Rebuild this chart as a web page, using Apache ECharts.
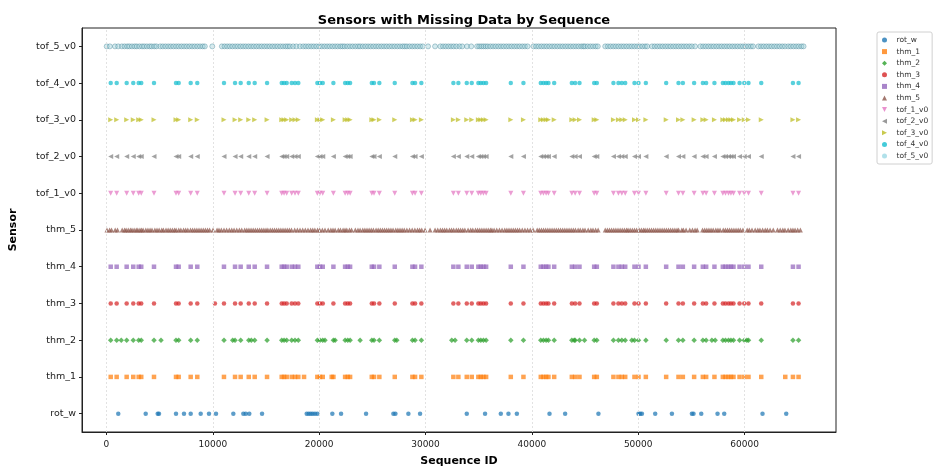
<!DOCTYPE html>
<html>
<head>
<meta charset="utf-8">
<script src="https://cdn.jsdelivr.net/npm/echarts@6/dist/echarts.min.js"></script>
<style>
html,body{margin:0;padding:0;background:#fff;}
#chart{width:933px;height:467px;}
</style>
</head>
<body>
<div id="chart"></div>
<script>
const sensors = ['rot_w','thm_1','thm_2','thm_3','thm_4','thm_5','tof_1_v0','tof_2_v0','tof_3_v0','tof_4_v0','tof_5_v0'];
const xTicks = [0,10000,20000,30000,40000,50000,60000];

const rotW = [1110,3690,4820,4940,6540,7290,7920,8860,9640,10300,11930,12870,13100,13430,14630,18830,19020,19210,19400,19610,19830,21240,22060,24410,26980,27170,28390,29490,33880,35600,37080,37800,38590,41660,43130,46260,50030,50190,50350,51600,53170,55050,55200,55930,57460,58090,61690,63920];

const thm1 = [400,960,1900,2520,3030,3270,4470,6540,6790,7920,8540,11050,12090,12620,13380,13940,15100,16480,16700,16950,17420,17730,18040,18580,19830,20080,20340,21180,21340,22440,22690,22910,24950,25160,25660,27110,28770,29020,29610,32620,33090,33880,34350,34970,35200,35450,35700,38020,39210,40840,41090,41340,41560,42100,43760,44070,44480,45860,46110,47670,48140,48460,48780,49650,50030,50720,52630,53790,54200,55260,56080,56390,57170,57960,58210,58490,58720,58960,59530,59970,60370,61570,63830,64550,65080];

const thm2 = [400,960,1390,1900,2520,3030,3270,4470,5130,6540,6790,7920,8540,11050,11870,12090,12620,13380,13620,13940,15100,16480,16700,16950,17420,17730,18040,19830,20080,20340,20550,21340,21500,22440,22690,22910,23850,24950,25160,25660,27110,27300,28770,29020,29610,32470,32780,33880,34350,34970,35200,35450,35700,38020,39210,40840,41090,41340,41560,42100,43760,43980,44070,44480,44950,45860,46110,47670,48140,48460,48780,49400,49650,50030,50720,52630,53790,54200,55260,56080,56390,56930,57240,57960,58210,58490,58720,58960,59530,59970,60220,60370,61570,64550,65080];

const thm3 = [400,960,1900,2520,3030,3270,4470,6540,6790,7920,8540,10200,11050,12090,12620,13380,13940,15100,16480,16700,16950,17420,17730,18040,19830,20080,20340,21340,22440,22690,22910,24950,25160,25660,27110,28770,29020,29610,32620,33090,33880,34350,34970,35200,35450,35700,38020,39210,40840,41090,41340,41560,42100,43760,44070,44480,45860,46110,47670,48140,48460,48780,49650,50030,50720,52630,53790,54200,55260,56080,56390,57170,57960,58210,58490,58720,58960,59530,59970,60370,61570,64550,65080];

const sharedGaps = [400,960,1900,2520,3030,3270,4470,6540,6790,7920,8540,11050,12090,12620,13380,13940,15100,16480,16700,16950,17420,17730,18040,19830,20080,20340,21340,22440,22690,22910,24950,25160,25660,27110,28770,29020,29610,32620,33090,33880,34350,34970,35200,35450,35700,38020,39210,40840,41090,41340,41560,42100,43760,44070,44480,45860,46110,47670,48140,48460,48780,49650,50030,50720,52630,53790,54200,55260,56080,56390,57170,57960,58210,58490,58720,58960,59530,59970,60370,61570,64550,65080];

const thm5 = [50,300,480,820,1040,1480,1700,1850,2050,2250,2400,2600,2800,2950,3150,3300,3450,3700,3900,4100,4280,4550,4750,4950,5200,5350,5600,5800,6000,6200,6400,6550,6800,7000,7250,7450,7650,7900,8100,8300,8500,8700,8900,9100,9300,9500,9700,10020,10400,10580,10800,11050,11300,11550,11780,12000,12250,12500,12720,13000,13200,13400,13600,13800,14000,14200,14400,14600,14800,15000,15180,15400,15600,15800,16000,16200,16400,16600,16800,17000,17200,17400,17700,17950,18200,18450,18700,18950,19200,19400,19600,19850,20050,20300,20550,20850,21100,21300,21500,21800,22000,22250,22430,22600,22850,23050,23400,23650,23850,24100,24300,24500,24700,24900,25100,25350,25550,25750,25950,26150,26350,26550,26750,26950,27200,27400,27600,27800,28000,28250,28500,28750,29000,29250,29450,29650,29960,30430,30900,31150,31400,31600,31800,32000,32250,32450,32650,32900,33100,33300,33500,33700,34000,34250,34450,34700,34900,35100,35300,35500,35700,35900,36100,36250,36450,36700,36950,37200,37450,37650,37850,38050,38250,38450,38650,38850,39100,39350,39600,39850,40120,40500,40700,40900,41100,41300,41500,41700,41900,42100,42300,42500,42700,42900,43100,43300,43500,43700,43900,44100,44350,44550,44800,45000,45300,45550,45750,46000,46230,46900,47100,47300,47500,47700,47900,48100,48300,48500,48700,48900,49050,49250,49450,49650,49850,50100,50300,50500,50650,50850,51050,51250,51450,51650,51850,52050,52250,52450,52650,52850,53050,53250,53450,53650,53800,54100,54250,54500,54850,55100,55350,55550,56050,56250,56450,56650,56850,57050,57300,57500,57700,58000,58200,58400,58600,58800,59000,59200,59400,59600,59850,60250,60450,60700,61000,61250,61450,61700,61950,62150,62400,62700,63100,63350,63600,63800,64100,64350,64550,64750,65000,65250];

const tof5 = [20,320,800,1100,1450,1700,1950,2150,2400,2650,2850,3100,3350,3550,3800,4050,4250,4500,4700,5050,5300,5550,5800,6050,6300,6550,6800,7050,7300,7550,7800,8050,8300,8550,8800,9050,9250,9950,10850,11100,11350,11600,11850,12100,12350,12600,12850,13100,13350,13600,13850,14100,14350,14600,14850,15100,15350,15600,15850,16100,16350,16600,16850,17050,17250,17550,17850,18200,18500,18750,19000,19250,19500,19750,20000,20250,20500,20750,21000,21250,21500,21750,22000,22200,22400,22650,22900,23150,23400,23650,23850,24100,24350,24600,24850,25100,25350,25600,25850,26100,26350,26600,26850,27100,27350,27600,27850,28050,28250,28500,28750,29000,29250,29500,29750,30240,30900,31400,31650,31900,32150,32400,32650,32900,33200,33450,33900,34300,34850,35050,35250,35450,35650,35850,36100,36350,36600,36850,37100,37350,37600,37850,38100,38350,38600,38850,39100,39350,39600,40150,40400,40650,40900,41150,41400,41650,41900,42150,42400,42650,42900,43150,43400,43650,43900,44150,44400,44650,44850,45000,45250,45500,45750,46000,46200,46900,47150,47400,47650,47900,48150,48400,48650,48900,49150,49400,49650,49900,50150,50400,50650,50850,51300,51550,51800,52050,52300,52550,52800,53050,53300,53550,53800,54050,54300,54550,54800,55050,55350,55850,56100,56350,56600,56850,57100,57350,57600,57850,58100,58350,58600,58850,59100,59350,59600,59850,60100,60350,60600,60800,61300,61550,61800,62050,62300,62550,62800,63050,63300,63550,63800,64100,64350,64600,64850,65100,65350,65550];

const seriesValues = {
  'rot_w': rotW, 'thm_1': thm1, 'thm_2': thm2, 'thm_3': thm3, 'thm_4': sharedGaps,
  'thm_5': thm5, 'tof_1_v0': sharedGaps, 'tof_2_v0': sharedGaps, 'tof_3_v0': sharedGaps,
  'tof_4_v0': sharedGaps, 'tof_5_v0': tof5
};

const TRI_UP = 'path://M5,0L10,10L0,10Z';
const TRI_DOWN = 'path://M0,0L10,0L5,10Z';
const TRI_LEFT = 'path://M0,5L10,0L10,10Z';
const TRI_RIGHT = 'path://M0,0L10,5L0,10Z';
const SQUARE = 'path://M0,0L10,0L10,10L0,10Z';
const DIAMOND = 'path://M5,0L10,5L5,10L0,5Z';

const colors = ['#1f77b4','#ff7f0e','#2ca02c','#d62728','#9467bd','#8c564b','#e377c2','#7f7f7f','#bcbd22','#17becf','#9edae5'];
const symbols = ['circle',SQUARE,DIAMOND,'circle',SQUARE,TRI_UP,TRI_DOWN,TRI_LEFT,TRI_RIGHT,'circle','circle'];
const sizes = [4.5,4.5,5.5,4.5,4.5,5,5,5,5,4.5,5];

const font = 'DejaVu Sans';
const chart = echarts.init(document.getElementById('chart'), null, {renderer:'canvas'});

const series = sensors.map((s, i) => ({
  name: s,
  type: 'scatter',
  symbol: symbols[i],
  symbolSize: sizes[i],
  z: 3,
  itemStyle: i === 10 ? {
    color: 'rgba(150,205,215,0.5)', borderColor: 'rgba(60,125,145,0.6)', borderWidth: 0.8
  } : { color: colors[i], opacity: 0.72 },
  emphasis: { disabled: true },
  data: seriesValues[s].map(v => [v, s])
}));

series.push({
  name: 'grid-lines',
  type: 'scatter',
  data: [],
  z: 1,
  silent: true,
  markLine: {
    silent: true,
    symbol: ['none','none'],
    label: { show: false },
    lineStyle: { color: '#e2e2e2', type: [2, 2], width: 1 },
    data: xTicks.map(v => ({ xAxis: v }))
  }
});

chart.setOption({
  animation: false,
  backgroundColor: '#fff',
  title: {
    text: 'Sensors with Missing Data by Sequence',
    left: 459, top: 9, textAlign: 'center',
    textStyle: { fontFamily: font, fontSize: 13, fontWeight: 'bold', color: '#000' }
  },
  legend: {
    orient: 'vertical',
    left: 877, top: 32,
    padding: [4, 4, 4, 5],
    itemWidth: 14, itemHeight: 5, itemGap: 3.6,
    symbolKeepAspect: true,
    borderColor: '#d0d0d0', borderWidth: 1, borderRadius: 2,
    textStyle: { fontFamily: font, fontSize: 7.5, color: '#333' },
    data: sensors.map((s, i) => ({ name: s, icon: symbols[i], itemStyle: { color: colors[i], opacity: 0.8, borderWidth: 0 } }))
  },
  grid: { left: 82, right: 97, top: 28, bottom: 35, show: true, borderColor: '#222', borderWidth: 1, backgroundColor: 'transparent', outerBoundsMode: 'none', containLabel: false },
  xAxis: {
    type: 'value',
    min: -2300, max: 68600,
    splitNumber: 7,
    name: 'Sequence ID', nameLocation: 'middle', nameGap: 24,
    nameTextStyle: { fontFamily: font, fontSize: 11, fontWeight: 'bold', color: '#000' },
    axisLine: { show: true, onZero: false, lineStyle: { color: '#222' } },
    axisTick: { show: true, inside: false, length: 3, lineStyle: { color: '#222' } },
    axisLabel: { fontFamily: font, fontSize: 9, color: '#222', margin: 8, showMinLabel: false, showMaxLabel: false,
      formatter: v => (xTicks.indexOf(v) >= 0 ? String(v) : '') },
    splitLine: { show: false }
  },
  yAxis: {
    type: 'category',
    data: sensors,
    name: 'Sensor', nameLocation: 'middle', nameGap: 63, nameRotate: 90,
    nameTextStyle: { fontFamily: font, fontSize: 11, fontWeight: 'bold', color: '#000' },
    axisLine: { show: true, onZero: false, lineStyle: { color: '#222' } },
    axisTick: { show: true, alignWithLabel: true, length: 3, lineStyle: { color: '#222' } },
    axisLabel: { fontFamily: font, fontSize: 9.5, color: '#222', margin: 6 },
    splitLine: { show: false }
  },
  series: series
});
</script>
</body>
</html>
